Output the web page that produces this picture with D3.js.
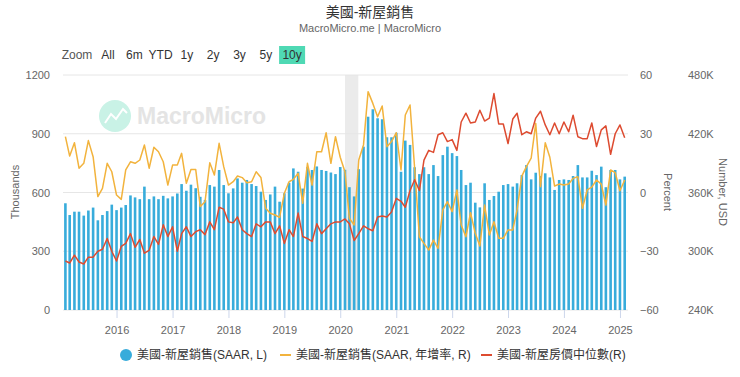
<!DOCTYPE html>
<html>
<head>
<meta charset="utf-8">
<script src="https://cdn.jsdelivr.net/npm/d3@7"></script>
<style>
body { margin: 0; background: #fff; }
svg { font-family: "Liberation Sans", Arial, "Noto Sans CJK TC", sans-serif; }
</style>
</head>
<body>
<svg id="chart"></svg>
<script>
// monthly data, Feb 2015 .. Feb 2025
const firstMonth = new Date(2015, 1, 1)

// new home sales, SAAR, thousands (left axis)
const sales = [
    545, 485, 502, 502, 482, 508, 523, 458, 485, 505, 538,
    510, 523, 536, 585, 575, 566, 630, 566, 580, 566, 583, 570,
    580, 595, 643, 609, 640, 622, 578, 562, 638, 630, 715, 638,
    596, 621, 672, 650, 664, 643, 633, 604, 562, 590, 630, 553,
    596, 650, 723, 706, 620, 730, 715, 733, 715, 710, 702, 694,
    730, 716, 627, 580, 719, 834, 987, 1025, 979, 974, 882, 882,
    905, 706, 865, 843, 729, 694, 729, 694, 740, 684, 791, 834,
    801, 786, 715, 638, 650, 548, 524, 647, 562, 582, 604, 638,
    643, 630, 647, 689, 740, 667, 701, 684, 698, 677, 613, 664,
    667, 664, 684, 740, 677, 677, 711, 689, 732, 627, 715, 715,
    667, 681
]

// new home sales, SAAR, year-over-year % (right axis)
const salesYoY = [
    28.5, 18.6, 25.4, 12.4, 14.9, 26.5, 18.3, -2.1, 2.1, 14.9, 10.6,
    -1.3, -3.5, 11.5, 15.7, 14.9, 16.6, 24.3, 12.4, 23.1, 20.8, 15.7, 3.8,
    14, 14, 20, 4.7, 11.8, 11.8, -7.2, -4.7, 15.2, 8.9, 25.1, 13.2,
    3.8, 5.5, 8.4, 7.6, 5, 5.5, 10.6, 7.7, -8, -10.6, -11.5, -12.7,
    -0.4, 5.5, 6.7, 9.8, -5.5, 14.9, 3.8, 20.8, 20.8, 30.5, 14.9, 28.5,
    18, 10.6, -13.2, -16.6, 16.6, 24.3, 51.5, 45.5, 38.7, 44.2, 23.4, 26,
    30.5, 11.5, 39.6, 44.7, 12.4, -22.6, -26, -29.4, -24.3, -28.6, -8.9, -4.7,
    -9.8, 1.3, -16.6, -22.6, -10.3, -20.8, -27.3, -6.4, -21.7, -14.9, -23.4, -23.4,
    -19.1, -19.1, -8.9, 8.4, 13.2, 17.5, 35.3, 3, 25.4, 18, 3.3, 4.3,
    3.8, 4.3, 7.2, 8.1, -8.1, 1.3, 2.7, 6.4, 4.3, -6.4, 11.5, 10.1,
    0.9, 6.4
]

// median new home price, thousands USD (right axis)
const medianPrice = [
    290, 288, 296, 289, 287, 294, 294, 300, 302, 313, 300,
    290, 305, 308, 318, 304, 312, 298, 301, 315, 307, 327, 315,
    325, 300, 318, 325, 315, 320, 322, 317, 330, 322, 345, 343,
    330, 329, 335, 322, 318, 315, 328, 325, 330, 330, 318, 326,
    308, 322, 315, 339, 315, 313, 310, 328, 318, 323, 328, 330,
    330, 333, 328, 311, 318, 326, 323, 321, 335, 336, 335, 340,
    354, 351, 345, 362, 373, 362, 393, 403, 401, 419, 421, 412,
    414, 403, 432, 441, 431, 432, 444, 433, 436, 461, 430, 430,
    410, 435, 441, 419, 422, 420, 436, 443, 429, 419, 431, 420,
    432, 422, 439, 417, 415, 415, 431, 407, 424, 428, 399, 420,
    429, 416
]

const leftTicks = [0, 300, 600, 900, 1200]
const pctTicks = [-60, -30, 0, 30, 60]
const priceTicks = [240, 300, 360, 420, 480]
const yearTicks = [2016, 2017, 2018, 2019, 2020, 2021, 2022, 2023, 2024, 2025]
const rangeButtons = ["All", "6m", "YTD", "1y", "2y", "3y", "5y", "10y"]
const recession = [new Date(2020, 1, 1), new Date(2020, 3, 15)]

const barColor = "#38acdb"
const yoyColor = "#f2b33d"
const priceColor = "#dd4b30"

const width = 740, height = 377
const plotTop = 75, plotBottom = 310, plotLeft = 63, plotRight = 628

const months = sales.map((d, i) => d3.timeMonth.offset(firstMonth, i))

const svg = d3.select("#chart")
    .attr("width", width)
    .attr("height", height)

// scales
const x = d3.scaleTime()
    .domain([months[0], months[months.length - 1]])
    .range([65.4, 624.7])
const yL = d3.scaleLinear().domain([0, 1200]).range([plotBottom, plotTop])
const yP = d3.scaleLinear().domain([-60, 60]).range([plotBottom, plotTop])
const yPrice = d3.scaleLinear().domain([240, 480]).range([plotBottom, plotTop])

// title
svg.append("text")
    .attr("x", 370).attr("y", 17)
    .attr("text-anchor", "middle")
    .attr("font-size", 14).attr("fill", "#333")
    .text("美國-新屋銷售")
svg.append("text")
    .attr("x", 370).attr("y", 32)
    .attr("text-anchor", "middle")
    .attr("font-size", 11).attr("fill", "#666")
    .text("MacroMicro.me | MacroMicro")

// range selector
svg.append("text")
    .attr("x", 77).attr("y", 59)
    .attr("text-anchor", "middle")
    .attr("font-size", 12).attr("fill", "#555")
    .text("Zoom")
const btn = svg.selectAll(".btn")
    .data(rangeButtons)
    .enter().append("g")
    .attr("class", "btn")
    .attr("transform", (d, i) => `translate(${108 + i * 26.3}, 55)`)
btn.filter(d => d === "10y").append("rect")
    .attr("x", -13).attr("y", -9)
    .attr("width", 26).attr("height", 18)
    .attr("fill", "#4fd9b4")
btn.append("text")
    .attr("y", 4)
    .attr("text-anchor", "middle")
    .attr("font-size", 12).attr("fill", "#333")
    .text(d => d)

// watermark
const wm = svg.append("g")
wm.append("circle")
    .attr("cx", 115).attr("cy", 116).attr("r", 16)
    .attr("fill", "#c9f2e6")
wm.append("polyline")
    .attr("points", "105,123 111,114 116,119 123,109 127,113")
    .attr("fill", "none").attr("stroke", "#fff").attr("stroke-width", 2)
wm.append("text")
    .attr("x", 137).attr("y", 124)
    .attr("font-size", 23).attr("font-weight", 700)
    .attr("fill", "#e4e4e4")
    .text("MacroMicro")

// recession band
svg.append("rect")
    .attr("x", x(recession[0]))
    .attr("y", plotTop)
    .attr("width", x(recession[1]) - x(recession[0]) + 2)
    .attr("height", plotBottom - plotTop)
    .attr("fill", "#ebebeb")

// grid
svg.selectAll(".grid")
    .data(leftTicks)
    .enter().append("line")
    .attr("x1", plotLeft).attr("x2", plotRight)
    .attr("y1", d => yL(d)).attr("y2", d => yL(d))
    .attr("stroke", "#e6e6e6")

// bars
const barW = 2.6
svg.selectAll(".bar")
    .data(sales)
    .enter().append("rect")
    .attr("class", "bar")
    .attr("x", (d, i) => x(months[i]) - barW / 2)
    .attr("y", d => yL(d))
    .attr("width", barW)
    .attr("height", d => plotBottom - yL(d))
    .attr("fill", barColor)

// lines
const yoyLine = d3.line()
    .x((d, i) => x(months[i]))
    .y(d => yP(d))
svg.append("path")
    .datum(salesYoY)
    .attr("d", yoyLine)
    .attr("fill", "none")
    .attr("stroke", yoyColor)
    .attr("stroke-width", 1.5)
    .attr("stroke-linejoin", "round")

const priceLine = d3.line()
    .x((d, i) => x(months[i]))
    .y(d => yPrice(d))
svg.append("path")
    .datum(medianPrice)
    .attr("d", priceLine)
    .attr("fill", "none")
    .attr("stroke", priceColor)
    .attr("stroke-width", 1.5)
    .attr("stroke-linejoin", "round")

// x axis
const xAxis = d3.axisBottom(x)
    .tickValues(yearTicks.map(y => new Date(y, 0, 1)))
    .tickFormat(d3.timeFormat("%Y"))
    .tickSize(8)
    .tickPadding(8)
const gx = svg.append("g")
    .attr("transform", `translate(0, ${plotBottom})`)
    .call(xAxis)
gx.select(".domain").remove()
gx.selectAll("line").attr("stroke", "#ccd6eb")
gx.selectAll("text").attr("fill", "#666").attr("font-size", 11)
    .attr("font-family", null)

// left axis
const gl = svg.append("g")
    .attr("transform", `translate(${plotLeft}, 0)`)
    .call(d3.axisLeft(yL).tickValues(leftTicks).tickFormat(d3.format("d"))
        .tickSize(0).tickPadding(13))
gl.select(".domain").remove()
gl.selectAll("text").attr("fill", "#666").attr("font-size", 11)
    .attr("font-family", null)

// right axis, percent
const gp = svg.append("g")
    .attr("transform", `translate(${plotRight}, 0)`)
    .call(d3.axisRight(yP).tickValues(pctTicks).tickSize(0).tickPadding(12))
gp.select(".domain").remove()
gp.selectAll("text").attr("fill", "#666").attr("font-size", 11)
    .attr("font-family", null)

// right axis, price
const gr = svg.append("g")
    .attr("transform", `translate(${plotRight}, 0)`)
    .call(d3.axisRight(yPrice).tickValues(priceTicks).tickSize(0).tickPadding(60)
        .tickFormat(d => d + "K"))
gr.select(".domain").remove()
gr.selectAll("text").attr("fill", "#666").attr("font-size", 11)
    .attr("font-family", null)

// axis titles
svg.append("text")
    .attr("transform", `translate(19, 192) rotate(-90)`)
    .attr("text-anchor", "middle")
    .attr("font-size", 11).attr("fill", "#666")
    .text("Thousands")
svg.append("text")
    .attr("transform", `translate(664, 192) rotate(90)`)
    .attr("text-anchor", "middle")
    .attr("font-size", 11).attr("fill", "#666")
    .text("Percent")
svg.append("text")
    .attr("transform", `translate(719, 192) rotate(90)`)
    .attr("text-anchor", "middle")
    .attr("font-size", 11).attr("fill", "#666")
    .text("Number, USD")

// legend
const legend = svg.append("g").attr("font-size", 12).attr("fill", "#333")
legend.append("circle")
    .attr("cx", 126).attr("cy", 355).attr("r", 6)
    .attr("fill", barColor)
legend.append("text").attr("x", 137).attr("y", 359)
    .text("美國-新屋銷售(SAAR, L)")
legend.append("line")
    .attr("x1", 280).attr("x2", 291).attr("y1", 355).attr("y2", 355)
    .attr("stroke", yoyColor).attr("stroke-width", 2)
legend.append("text").attr("x", 296).attr("y", 359)
    .text("美國-新屋銷售(SAAR, 年增率, R)")
legend.append("line")
    .attr("x1", 481).attr("x2", 492).attr("y1", 355).attr("y2", 355)
    .attr("stroke", priceColor).attr("stroke-width", 2)
legend.append("text").attr("x", 497).attr("y", 359)
    .text("美國-新屋房價中位數(R)")
</script>
</body>
</html>
